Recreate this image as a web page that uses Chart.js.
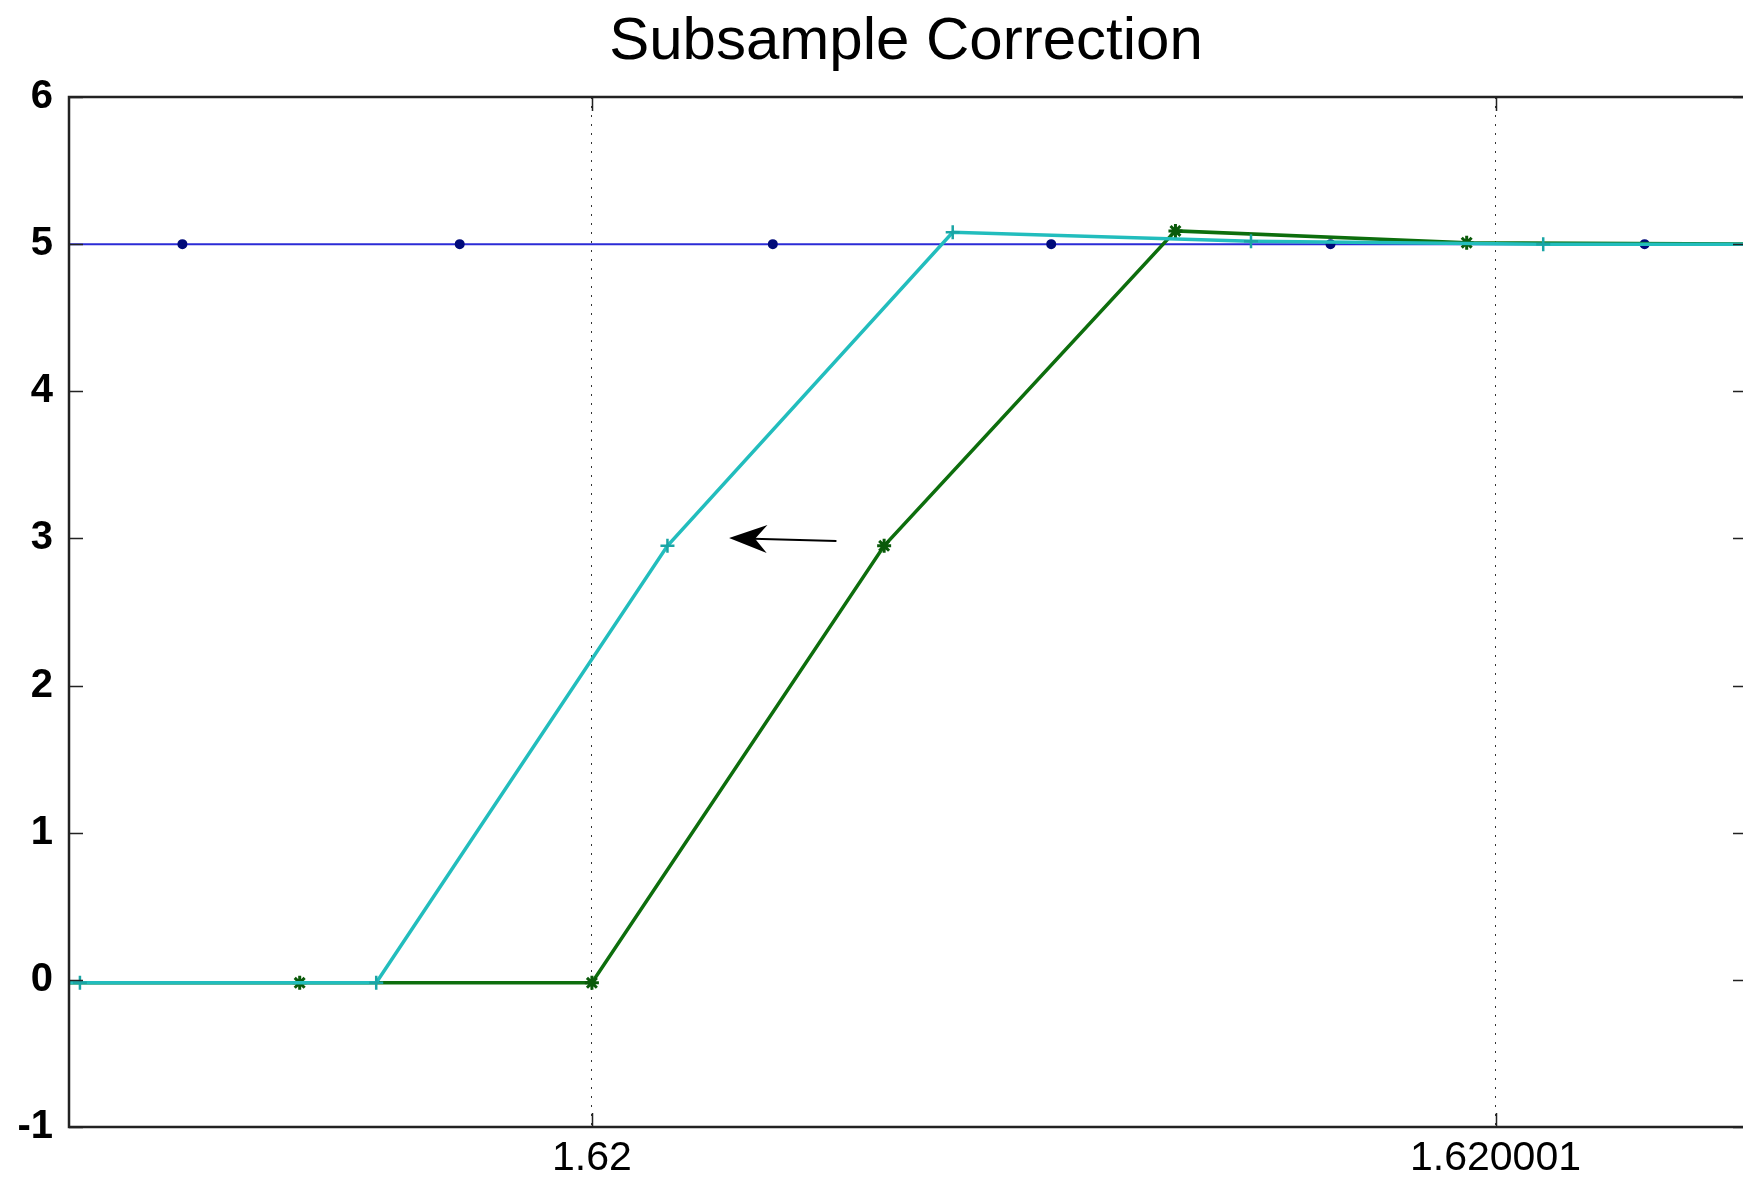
<!DOCTYPE html>
<html>
<head>
<meta charset="utf-8">
<title>Subsample Correction</title>
<script src="https://cdn.jsdelivr.net/npm/chart.js@4.4.1/dist/chart.umd.min.js"></script>
<style>
  html, body { margin: 0; padding: 0; background: #fff; }
  canvas { display: block; }
</style>
</head>
<body>
<canvas id="chart" width="1753" height="1184"></canvas>
<script>
const titleText = "Subsample Correction"

// time axis, seconds
const xTickValues = [1.62, 1.620001]
const xTickLabels = ["1.62", "1.620001"]
const xMin = 1.6199994213
const xMax = 1.6200012739
const yMin = -1
const yMax = 6

// blue: reference samples
const blueX = [1.6199992387, 1.6199995468, 1.6199998537, 1.6200002002, 1.6200005083, 1.6200008174, 1.6200011650, 1.6200014731]
const blueY = [5, 5, 5, 5, 5, 5, 5, 5]

// green: before correction
const greenX = [1.6199993531, 1.6199996766, 1.6200000000, 1.6200003234, 1.6200006458, 1.6200009681, 1.6200012915]
const greenY = [-0.02, -0.02, -0.02, 2.95, 5.09, 5.01, 5.0]

// cyan: after subsample correction
const cyanX = [1.6199991100, 1.6199994334, 1.6199997613, 1.6200000836, 1.6200003993, 1.6200007294, 1.6200010528, 1.6200013762]
const cyanY = [-0.02, -0.02, -0.02, 2.95, 5.08, 5.02, 5.0, 5.0]

// arrow (tail -> tip)
const arrowFrom = [1.6200002706, 2.983]
const arrowTo = [1.6200001518, 3.003]

const toPoints = (xs, ys) => xs.map((x, i) => ({x: x, y: ys[i]}))

// frame + inward ticks like the original plot
const axesFrame = {
    id: "axesFrame",
    afterDraw(chart) {
        const {ctx, chartArea: a, scales: {x, y}} = chart
        ctx.save()
        ctx.strokeStyle = "#222"
        ctx.lineWidth = 2.5
        ctx.beginPath()
        ctx.moveTo(a.right, a.top)
        ctx.lineTo(a.left, a.top)
        ctx.lineTo(a.left, a.bottom)
        ctx.lineTo(a.right, a.bottom)
        ctx.stroke()

        ctx.lineWidth = 1.5
        ctx.beginPath()
        for (const t of y.ticks) {
            const py = Math.round(y.getPixelForValue(t.value)) + 0.5
            ctx.moveTo(a.left, py)
            ctx.lineTo(a.left + 14, py)
            ctx.moveTo(a.right, py)
            ctx.lineTo(a.right - 10, py)
        }
        for (const t of x.ticks) {
            const px = Math.round(x.getPixelForValue(t.value)) + 0.5
            ctx.moveTo(px, a.bottom)
            ctx.lineTo(px, a.bottom - 14)
            ctx.moveTo(px, a.top)
            ctx.lineTo(px, a.top + 14)
        }
        ctx.stroke()
        ctx.restore()
    }
}

const shiftArrow = {
    id: "shiftArrow",
    afterDatasetsDraw(chart) {
        const {ctx, scales: {x, y}} = chart
        const x0 = x.getPixelForValue(arrowFrom[0]), y0 = y.getPixelForValue(arrowFrom[1])
        const x1 = x.getPixelForValue(arrowTo[0]), y1 = y.getPixelForValue(arrowTo[1])
        const len = Math.hypot(x1 - x0, y1 - y0)
        const ang = Math.atan2(y1 - y0, x1 - x0)
        ctx.save()
        ctx.translate(x1, y1)
        ctx.rotate(ang)
        ctx.strokeStyle = "#000"
        ctx.fillStyle = "#000"
        ctx.lineWidth = 2
        ctx.beginPath()
        ctx.moveTo(-len, 0)
        ctx.lineTo(-24, 0)
        ctx.stroke()
        ctx.beginPath()
        ctx.moveTo(0, 0)
        ctx.lineTo(-38, -14)
        ctx.lineTo(-26, 0)
        ctx.lineTo(-38, 14)
        ctx.closePath()
        ctx.fill()
        ctx.restore()
    }
}

const sans = "\"Liberation Sans\", Arial, sans-serif"

const chart = new Chart(document.getElementById("chart"), {
    type: "line",
    data: {
        datasets: [
            {
                label: "reference",
                data: toPoints(blueX, blueY),
                borderColor: "#2b2bd6",
                borderWidth: 2,
                pointStyle: "circle",
                pointRadius: 4,
                pointBackgroundColor: "#000a7a",
                pointBorderColor: "#000a7a",
                tension: 0,
                order: 3
            },
            {
                label: "before",
                data: toPoints(greenX, greenY),
                borderColor: "#0d6e0d",
                borderWidth: 3.5,
                pointStyle: "star",
                pointRadius: 7,
                pointBorderWidth: 3,
                pointBackgroundColor: "#0a5a0a",
                pointBorderColor: "#0a5a0a",
                tension: 0,
                order: 2
            },
            {
                label: "corrected",
                data: toPoints(cyanX, cyanY),
                borderColor: "#22bdbd",
                borderWidth: 3.5,
                pointStyle: "cross",
                pointRadius: 7,
                pointBorderWidth: 2.5,
                pointBorderColor: "#1aa5a5",
                pointBackgroundColor: "#1aa5a5",
                tension: 0,
                order: 1
            }
        ]
    },
    options: {
        responsive: false,
        animation: false,
        layout: { padding: { top: 0, left: 0, right: 0, bottom: 0 } },
        plugins: {
            legend: { display: false },
            tooltip: { enabled: false },
            title: {
                display: true,
                text: titleText,
                fullSize: false,
                color: "#000",
                font: { family: sans, size: 60, weight: "normal", lineHeight: 1.0 },
                padding: { top: 12, bottom: 25 }
            }
        },
        scales: {
            x: {
                type: "linear",
                min: xMin,
                max: xMax,
                afterBuildTicks: (scale) => {
                    scale.ticks = xTickValues.map(v => ({value: v}))
                },
                afterFit: (scale) => { scale.height = 57 },
                grid: {
                    display: true,
                    drawTicks: false,
                    color: "#333",
                    lineWidth: 1
                },
                border: { display: false, dash: [2, 7] },
                ticks: {
                    maxRotation: 0,
                    autoSkip: false,
                    padding: 11,
                    color: "#000",
                    font: { family: sans, size: 41, lineHeight: 1.0 },
                    callback: (value, index) => xTickLabels[index]
                }
            },
            y: {
                min: yMin,
                max: yMax,
                afterFit: (scale) => { scale.width = 69 },
                grid: { display: false, drawTicks: false },
                border: { display: false },
                ticks: {
                    stepSize: 1,
                    padding: 16,
                    color: "#000",
                    font: { family: sans, size: 40, weight: "bold" },
                    callback: (value) => String(value)
                }
            }
        }
    },
    plugins: [axesFrame, shiftArrow]
})
</script>
</body>
</html>
